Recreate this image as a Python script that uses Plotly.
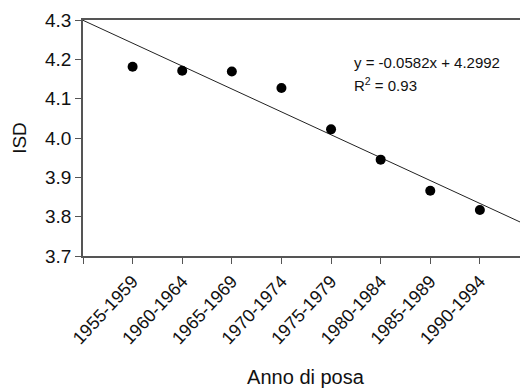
import plotly.graph_objects as go

categories = ["1955-1959", "1960-1964", "1965-1969", "1970-1974",
              "1975-1979", "1980-1984", "1985-1989", "1990-1994"]
isd_values = [4.181, 4.171, 4.169, 4.127, 4.022, 3.945, 3.866, 3.817]
slope = -0.0582
intercept = 4.2992
r_squared = 0.93
y_ticks = [3.7, 3.8, 3.9, 4.0, 4.1, 4.2, 4.3]

x_pos = list(range(1, len(categories) + 1))
line_x = [0, len(categories) + 1]
line_y = [intercept + slope * x for x in line_x]

FONT = "Arial, Liberation Sans, sans-serif"

fig = go.Figure()
fig.add_trace(go.Scatter(x=line_x, y=line_y, mode="lines",
                         line=dict(color="#222222", width=1), showlegend=False))
fig.add_trace(go.Scatter(x=x_pos, y=isd_values, mode="markers",
                         marker=dict(color="black", size=10), showlegend=False))

fig.add_annotation(x=0.604, y=0.822, xref="paper", yref="paper", xanchor="left", yanchor="middle",
                   text=f"y = {slope}x + {intercept}", showarrow=False,
                   font=dict(family=FONT, size=15, color="#111111"))
fig.add_annotation(x=0.604, y=0.725, xref="paper", yref="paper", xanchor="left", yanchor="middle",
                   text=f"R<sup>2</sup> = {r_squared}", showarrow=False,
                   font=dict(family=FONT, size=15, color="#111111"))

fig.update_layout(
    width=520, height=380,
    margin=dict(l=75, r=0, t=12, b=132, autoexpand=False),
    paper_bgcolor="white", plot_bgcolor="white",
    font=dict(family=FONT, color="#111111"),
    xaxis=dict(
        range=[0, 8.97],
        automargin=False,
        tickmode="array",
        tickvals=list(range(0, len(categories) + 2)),
        ticktext=[""] + categories + [""],
        tickangle=-47,
        ticks="outside", ticklen=6, tickcolor="#555555",
        showline=True, linecolor="#555555", linewidth=1.5, mirror=True,
        showgrid=False, zeroline=False,
        tickfont=dict(size=18),
        title=dict(text="Anno di posa", font=dict(size=20), standoff=27),
    ),
    yaxis=dict(
        range=[3.7, 4.3],
        automargin=False,
        tickmode="array",
        tickvals=y_ticks,
        ticktext=[f"{v:.1f}" for v in y_ticks],
        ticks="outside", ticklen=6, tickcolor="#555555",
        showline=True, linecolor="#555555", linewidth=1.5,
        showgrid=False, zeroline=False,
        tickfont=dict(size=19),
        title=dict(text="ISD", font=dict(size=19), standoff=13),
    ),
)

fig.write_html("out.html")
